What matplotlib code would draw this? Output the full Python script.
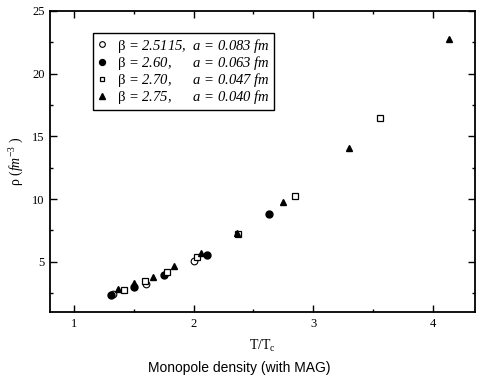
import matplotlib.pyplot as plt
from matplotlib.ticker import MultipleLocator

plt.rcParams['font.family'] = 'Liberation Serif'
plt.rcParams['mathtext.fontset'] = 'custom'
plt.rcParams['mathtext.rm'] = 'Liberation Serif'
plt.rcParams['mathtext.it'] = 'Liberation Serif:italic'

# T/Tc and rho values, one pair of lists per beta
t_2p5115 = [1.33, 1.60, 2.00]
rho_2p5115 = [2.40, 3.25, 5.10]

t_2p60 = [1.31, 1.50, 1.75, 2.11, 2.63]
rho_2p60 = [2.35, 3.00, 3.95, 5.55, 8.80]

t_2p70 = [1.42, 1.59, 1.78, 2.03, 2.37, 2.85, 3.56]
rho_2p70 = [2.75, 3.45, 4.20, 5.35, 7.20, 10.25, 16.50]

t_2p75 = [1.37, 1.50, 1.66, 1.84, 2.06, 2.36, 2.75, 3.30, 4.13]
rho_2p75 = [2.80, 3.35, 3.80, 4.65, 5.70, 7.30, 9.80, 14.10, 22.80]

labels = [r"$\mathrm{β}$ = 2.5115,  a = 0.083 fm",
          r"$\mathrm{β}$ = 2.60,      a = 0.063 fm",
          r"$\mathrm{β}$ = 2.70,      a = 0.047 fm",
          r"$\mathrm{β}$ = 2.75,      a = 0.040 fm"]

fig = plt.figure(figsize=(4.78, 3.78), dpi=100)
ax = fig.add_axes([0.1046, 0.1746, 0.889, 0.7964])

ax.plot(t_2p5115, rho_2p5115, ls="none", marker="o", ms=4.8, mfc="white",
        mec="k", mew=0.8, label=labels[0])
ax.plot(t_2p60, rho_2p60, ls="none", marker="o", ms=5, mfc="k",
        mec="k", label=labels[1])
ax.plot(t_2p70, rho_2p70, ls="none", marker="s", ms=4.2, mfc="white",
        mec="k", mew=0.9, label=labels[2])
ax.plot(t_2p75, rho_2p75, ls="none", marker="^", ms=5, mfc="k",
        mec="k", label=labels[3])

ax.set_xlim(0.8, 4.35)
ax.set_ylim(1, 25)
ax.xaxis.set_major_locator(MultipleLocator(1))
ax.xaxis.set_minor_locator(MultipleLocator(0.5))
ax.yaxis.set_major_locator(MultipleLocator(5))
ax.yaxis.set_minor_locator(MultipleLocator(2.5))
ax.tick_params(which="both", direction="in", top=True, right=True,
               labelsize=9, width=1)
ax.tick_params(which="major", length=5, pad=4)
ax.tick_params(which="minor", length=2.5)
for s in ax.spines.values():
    s.set_linewidth(1.3)

ax.set_xlabel(r"T/T$_{\mathrm{c}}$", fontsize=10, labelpad=6)
ax.set_ylabel(r"ρ ($fm^{-3}$ )", fontsize=10, labelpad=4)

leg = ax.legend(loc="upper left", bbox_to_anchor=(0.101, 0.927),
                borderaxespad=0, prop={"style": "italic", "size": 10.5},
                handlelength=0.8, handletextpad=0.6, labelspacing=-0.05,
                borderpad=0.25, fancybox=False, framealpha=1, markerscale=0.85)
leg.get_frame().set_edgecolor("k")
leg.get_frame().set_linewidth(1.0)

fig.text(0.5, 0.027, "Monopole density (with MAG)", ha="center",
         va="center", family="Liberation Sans", fontsize=10)

fig.savefig("out.png", dpi=100)
